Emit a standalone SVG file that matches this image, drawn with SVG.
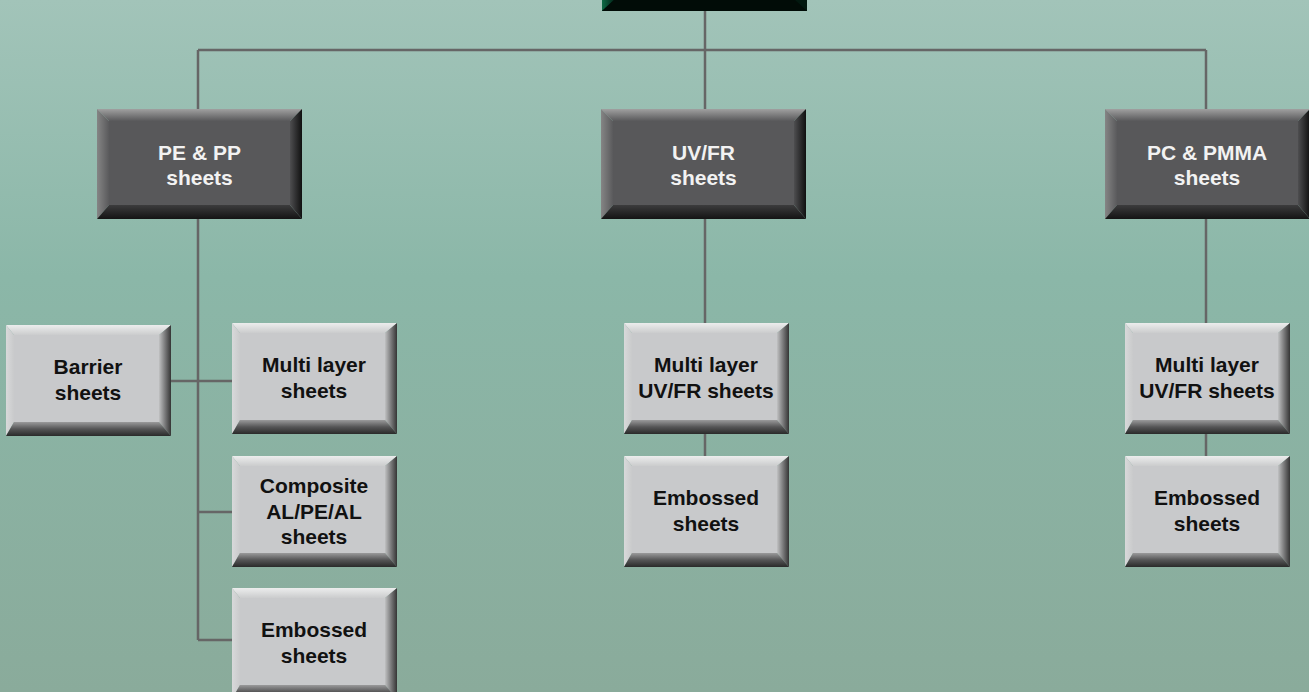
<svg xmlns="http://www.w3.org/2000/svg" width="1309" height="692" viewBox="0 0 1309 692">
<defs>
<linearGradient id="bg" x1="0" y1="0" x2="0" y2="1">
<stop offset="0" stop-color="#a2c4b9"/>
<stop offset="0.4" stop-color="#8bb7a8"/>
<stop offset="1" stop-color="#8aab9b"/>
</linearGradient>
<linearGradient id="lTop" x1="0" y1="0" x2="0" y2="1"><stop offset="0" stop-color="#eceded"/><stop offset="1" stop-color="#cbcccd"/></linearGradient>
<linearGradient id="lLeft" x1="0" y1="0" x2="1" y2="0"><stop offset="0" stop-color="#d8d9da"/><stop offset="1" stop-color="#c9cacb"/></linearGradient>
<linearGradient id="lRight" x1="0" y1="0" x2="1" y2="0"><stop offset="0" stop-color="#c0c1c2"/><stop offset="0.5" stop-color="#7a7a7b"/><stop offset="1" stop-color="#353535"/></linearGradient>
<linearGradient id="lBot" x1="0" y1="0" x2="0" y2="1"><stop offset="0" stop-color="#9a9a9b"/><stop offset="0.5" stop-color="#555556"/><stop offset="1" stop-color="#2a2a2a"/></linearGradient>
<linearGradient id="dTop" x1="0" y1="0" x2="0" y2="1"><stop offset="0" stop-color="#a0a0a0"/><stop offset="1" stop-color="#59595b"/></linearGradient>
<linearGradient id="dLeft" x1="0" y1="0" x2="1" y2="0"><stop offset="0" stop-color="#858585"/><stop offset="1" stop-color="#5a5a5c"/></linearGradient>
<linearGradient id="dRight" x1="0" y1="0" x2="1" y2="0"><stop offset="0" stop-color="#4e4e50"/><stop offset="1" stop-color="#101010"/></linearGradient>
<linearGradient id="dBot" x1="0" y1="0" x2="0" y2="1"><stop offset="0" stop-color="#3c3c3d"/><stop offset="1" stop-color="#141414"/></linearGradient>
<linearGradient id="gLeft" x1="0" y1="0" x2="1" y2="0"><stop offset="0" stop-color="#0d6a45"/><stop offset="1" stop-color="#03261a"/></linearGradient>
<g id="lightBox">
<rect x="8" y="10" width="145" height="87" fill="#c8c9cb"/>
<polygon points="0,0 165,0 153,10 8,10" fill="url(#lTop)"/>
<polygon points="0,0 8,10 8,97 0,111" fill="url(#lLeft)"/>
<polygon points="165,0 165,111 153,97 153,10" fill="url(#lRight)"/>
<polygon points="0,111 8,97 153,97 165,111" fill="url(#lBot)"/>
</g>
<g id="darkBox">
<rect x="12" y="12" width="181" height="84" fill="#58585a"/>
<polygon points="0,0 205,0 193,12 12,12" fill="url(#dTop)"/>
<polygon points="0,0 12,12 12,96 0,110" fill="url(#dLeft)"/>
<polygon points="205,0 205,110 193,96 193,12" fill="url(#dRight)"/>
<polygon points="0,110 12,96 193,96 205,110" fill="url(#dBot)"/>
</g>
</defs>
<style>
.conn{stroke:#666666;stroke-width:2.5;fill:none}
.tl{font-family:"Liberation Sans",Arial,sans-serif;font-weight:bold;font-size:21px;fill:#111111;text-anchor:middle}
.td{font-family:"Liberation Sans",Arial,sans-serif;font-weight:bold;font-size:21px;fill:#f2f2f2;text-anchor:middle}
</style>
<rect x="0" y="0" width="1309" height="692" fill="url(#bg)"/>

<g id="connectors">
<line class="conn" x1="198" y1="50" x2="1206" y2="50"/>
<line class="conn" x1="705" y1="10" x2="705" y2="109"/>
<line class="conn" x1="198" y1="50" x2="198" y2="109"/>
<line class="conn" x1="1206" y1="50" x2="1206" y2="109"/>
<line class="conn" x1="198" y1="219" x2="198" y2="640"/>
<line class="conn" x1="171" y1="381" x2="232" y2="381"/>
<line class="conn" x1="198" y1="512" x2="232" y2="512"/>
<line class="conn" x1="198" y1="640" x2="232" y2="640"/>
<line class="conn" x1="705" y1="219" x2="705" y2="323"/>
<line class="conn" x1="705" y1="433" x2="705" y2="456"/>
<line class="conn" x1="1206" y1="219" x2="1206" y2="323"/>
<line class="conn" x1="1206" y1="433" x2="1206" y2="456"/>
</g>

<g id="node-top">
<rect x="602" y="-100" width="205" height="111" fill="#02180f"/>
<polygon points="602,-100 614,-88 614,0 602,11" fill="url(#gLeft)"/>
<polygon points="602,11 614,0 795,0 807,11" fill="#010c07"/>
</g>

<g id="node-pepp">
<use href="#darkBox" x="97" y="109"/>
<text class="td" x="199.5" y="160">PE &amp; PP</text>
<text class="td" x="199.5" y="185">sheets</text>
</g>
<g id="node-uvfr">
<use href="#darkBox" x="601" y="109"/>
<text class="td" x="703.5" y="160">UV/FR</text>
<text class="td" x="703.5" y="185">sheets</text>
</g>
<g id="node-pcpmma">
<use href="#darkBox" x="1105" y="109"/>
<text class="td" x="1207" y="160">PC &amp; PMMA</text>
<text class="td" x="1207" y="185">sheets</text>
</g>

<g id="node-barrier">
<use href="#lightBox" x="6" y="325"/>
<text class="tl" x="88" y="374">Barrier</text>
<text class="tl" x="88" y="400">sheets</text>
</g>
<g id="node-multilayer">
<use href="#lightBox" x="232" y="323"/>
<text class="tl" x="314" y="372">Multi layer</text>
<text class="tl" x="314" y="398">sheets</text>
</g>
<g id="node-composite">
<use href="#lightBox" x="232" y="456"/>
<text class="tl" x="314" y="493">Composite</text>
<text class="tl" x="314" y="519">AL/PE/AL</text>
<text class="tl" x="314" y="544">sheets</text>
</g>
<g id="node-embossed1">
<use href="#lightBox" x="232" y="588"/>
<text class="tl" x="314" y="637">Embossed</text>
<text class="tl" x="314" y="663">sheets</text>
</g>
<g id="node-multi-uvfr1">
<use href="#lightBox" x="624" y="323"/>
<text class="tl" x="706" y="372">Multi layer</text>
<text class="tl" x="706" y="398">UV/FR sheets</text>
</g>
<g id="node-embossed2">
<use href="#lightBox" x="624" y="456"/>
<text class="tl" x="706" y="505">Embossed</text>
<text class="tl" x="706" y="531">sheets</text>
</g>
<g id="node-multi-uvfr2">
<use href="#lightBox" x="1125" y="323"/>
<text class="tl" x="1207" y="372">Multi layer</text>
<text class="tl" x="1207" y="398">UV/FR sheets</text>
</g>
<g id="node-embossed3">
<use href="#lightBox" x="1125" y="456"/>
<text class="tl" x="1207" y="505">Embossed</text>
<text class="tl" x="1207" y="531">sheets</text>
</g>
</svg>
